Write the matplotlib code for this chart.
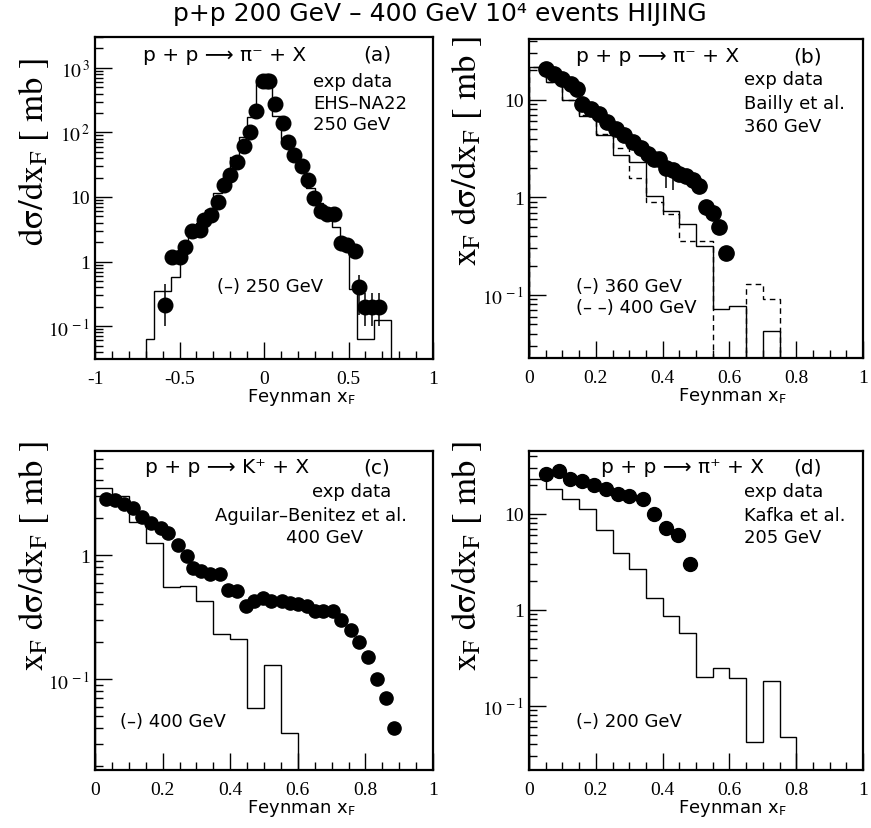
import numpy as np
import matplotlib
matplotlib.use('Agg')
import matplotlib.pyplot as plt
from matplotlib.ticker import MultipleLocator, FixedLocator, FixedFormatter, LogLocator, NullFormatter

plt.rcParams['font.family'] = ['Liberation Serif', 'DejaVu Serif']
plt.rcParams['mathtext.fontset'] = 'stix'
plt.rcParams['axes.unicode_minus'] = False

SANS = ['DejaVu Sans']

# (a) p+p -> pi- + X, EHS-NA22 at 250 GeV, HIJING 250 GeV
a_x = [-0.585, -0.542, -0.499, -0.467, -0.428, -0.380, -0.353, -0.311, -0.272, -0.236,
       -0.199, -0.162, -0.116, -0.083, -0.047, -0.005, 0.015, 0.030,
       0.063, 0.110, 0.142, 0.177, 0.223, 0.262, 0.296, 0.335, 0.374, 0.414,
       0.453, 0.493, 0.536, 0.562, 0.600, 0.640, 0.680]
a_y = [0.21, 1.19, 1.17, 1.69, 2.99, 3.13, 4.42, 5.3, 8.5, 15.5,
       22, 35, 61, 103, 218, 633, 633, 633,
       275, 138, 70, 44, 30.5, 18.5, 9.8, 6.1, 5.4, 5.4,
       1.97, 1.79, 1.46, 0.41, 0.2, 0.2, 0.2]
# points with visible error bars: x, lower and upper end of the bar
a_err_x = [-0.585, 0.562, 0.600, 0.640, 0.680]
a_err_bot = [0.10, 0.15, 0.10, 0.10, 0.10]
a_err_top = [0.45, 0.62, 0.33, 0.33, 0.33]
a_edges = [-0.70, -0.65, -0.60, -0.55, -0.50, -0.45, -0.40, -0.35, -0.30, -0.25, -0.20,
           -0.15, -0.10, -0.05, 0.00, 0.05, 0.10, 0.15, 0.20, 0.25, 0.30, 0.35,
           0.40, 0.45, 0.50, 0.55, 0.60, 0.65, 0.70, 0.75]
a_hist = [0.064, 0.35, 0.35, 0.58, 1.8, 2.4, 3.9, 6.3, 11.5, 20, 42, 85, 174, 650,
          650, 180, 80, 42, 25, 14, 8.0, 4.5, 3.4, 1.5, 0.38, 0.064, 0.064, 0.126, 0.126]

# (b) p+p -> pi- + X, Bailly et al. 360 GeV, HIJING 360 / 400 GeV
b_x = [0.050, 0.075, 0.100, 0.125, 0.145, 0.160, 0.185, 0.210, 0.235, 0.260, 0.285,
       0.310, 0.335, 0.355, 0.375, 0.390, 0.410, 0.430, 0.450, 0.470, 0.490, 0.510,
       0.530, 0.550, 0.570, 0.590]
b_y = [20.8, 18.5, 16.4, 14.6, 13.0, 9.1, 8.1, 7.2, 5.9, 5.0, 4.4,
       3.7, 3.2, 2.8, 2.5, 2.5, 2.0, 1.9, 1.74, 1.64, 1.51, 1.31,
       0.79, 0.69, 0.50, 0.27]
b_err_x = [0.410, 0.430]
b_err_bot = [1.25, 1.2]
b_err_top = [2.35, 2.25]
b_edges = [0.00, 0.05, 0.10, 0.15, 0.20, 0.25, 0.30, 0.35, 0.40, 0.45, 0.50, 0.55,
           0.60, 0.65, 0.70, 0.75]
b_hist_360 = [21.7, 15.2, 10.0, 6.9, 4.4, 2.7, 2.3, 1.04, 0.73, 0.53, 0.32, 0.071,
              0.078, 0.0, 0.043]
b_hist_400 = [21.7, 15.2, 10.0, 7.0, 4.5, 3.2, 1.57, 0.89, 0.67, 0.36, 0.36, 0.0,
              0.0, 0.129, 0.091]

# (c) p+p -> K+ + X, Aguilar-Benitez et al. 400 GeV, HIJING 400 GeV
c_x = [0.033, 0.059, 0.086, 0.111, 0.138, 0.167, 0.194, 0.217, 0.246, 0.271,
       0.291, 0.315, 0.340, 0.370, 0.394, 0.421, 0.446, 0.470, 0.498, 0.522,
       0.552, 0.576, 0.601, 0.626, 0.650, 0.675, 0.704, 0.729, 0.756, 0.781,
       0.808, 0.833, 0.860, 0.885]
c_y = [2.84, 2.77, 2.6, 2.4, 2.03, 1.82, 1.64, 1.51, 1.2, 0.98,
       0.79, 0.74, 0.70, 0.70, 0.52, 0.51, 0.39, 0.43, 0.45, 0.43,
       0.43, 0.41, 0.40, 0.39, 0.355, 0.355, 0.355, 0.30, 0.25, 0.20,
       0.15, 0.10, 0.07, 0.04]
c_edges = [0.00, 0.05, 0.10, 0.15, 0.20, 0.25, 0.30, 0.35, 0.40, 0.45, 0.50, 0.55, 0.60]
c_hist = [3.5, 3.0, 1.84, 1.26, 0.556, 0.56, 0.43, 0.23, 0.21, 0.058, 0.13, 0.037]

# (d) p+p -> pi+ + X, Kafka et al. 205 GeV, HIJING 200 GeV
d_x = [0.051, 0.091, 0.123, 0.158, 0.194, 0.232, 0.266, 0.300, 0.340, 0.374,
       0.409, 0.445, 0.483]
d_y = [26, 28, 23, 22, 20, 18.2, 16.2, 15.2, 14.1, 10, 7.1, 6.0, 3.0]
d_edges = [0.00, 0.05, 0.10, 0.15, 0.20, 0.25, 0.30, 0.35, 0.40, 0.45, 0.50, 0.55,
           0.60, 0.65, 0.70, 0.75, 0.80]
d_hist = [23, 18.2, 14.4, 11.3, 6.7, 3.9, 2.67, 1.33, 0.86, 0.57, 0.198, 0.245,
          0.193, 0.042, 0.183, 0.0475]

xf_ticks = [0, 0.2, 0.4, 0.6, 0.8, 1]
xf_labels = ['0', '0.2', '0.4', '0.6', '0.8', '1']


def style_axes(ax, xlim, xticks, xlabels, xminor, ylim, yticks, ylabels):
    ax.set_yscale('log')
    ax.set_xlim(*xlim)
    ax.set_ylim(*ylim)
    ax.set_xticks(xticks, xlabels)
    ax.xaxis.set_minor_locator(MultipleLocator(xminor))
    ax.yaxis.set_major_locator(FixedLocator(yticks))
    ax.yaxis.set_major_formatter(FixedFormatter(ylabels))
    ax.yaxis.set_minor_locator(LogLocator(base=10, subs=np.arange(2, 10)))
    ax.yaxis.set_minor_formatter(NullFormatter())
    ax.tick_params(which='both', direction='in', top=False, right=False,
                   labelsize=14, width=1.0)
    ax.tick_params(which='major', length=12)
    ax.tick_params(which='minor', length=6)
    ax.tick_params(axis='x', pad=8)
    for s in ax.spines.values():
        s.set_linewidth(1.6)
    ax.text(0.61, -0.118, r'Feynman x$_\mathregular{F}$', transform=ax.transAxes,
            ha='center', va='center', fontsize=13, family=SANS)


def txt(ax, x, y, s, ha='left', size=13):
    ax.text(x, y, s, transform=ax.transAxes, ha=ha, va='center', fontsize=size, family=SANS)


def dots(ax, x, y, ms=10.5):
    ax.plot(x, y, 'o', color='black', ms=ms, zorder=3)


def bars(ax, xs, allx, ally, bot, top):
    ys = np.array([ally[allx.index(v)] for v in xs])
    ax.errorbar(xs, ys, yerr=[ys - np.array(bot), np.array(top) - ys],
                fmt='none', ecolor='black', elinewidth=1.1, capsize=0)


fig = plt.figure(figsize=(8.71, 8.29), dpi=100)
W, H = 871.0, 829.0


def box(l, t, r, b):
    return [l / W, 1 - b / H, (r - l) / W, (b - t) / H]


ax_a = fig.add_axes(box(95, 38, 433, 360))
ax_b = fig.add_axes(box(529, 40, 863, 359))
ax_c = fig.add_axes(box(95, 452, 433, 771))
ax_d = fig.add_axes(box(529, 452, 863, 771))

fig.text(0.505, 0.983, 'p+p 200 GeV – 400 GeV 10⁴ events HIJING', ha='center', va='center',
         fontsize=18, family=SANS)

# panel (a)
ax_a.stairs(a_hist, a_edges, baseline=1e-4, color='black', lw=1.0)
bars(ax_a, a_err_x, a_x, a_y, a_err_bot, a_err_top)
dots(ax_a, a_x, a_y)
style_axes(ax_a, (-1, 1), [-1, -0.5, 0, 0.5, 1], ['-1', '-0.5', '0', '0.5', '1'], 0.1,
           (0.031, 3000), [0.1, 1, 10, 100, 1000],
           [r'$10^{\,-1}$', '1', '10', r'$10^{\,2}$', r'$10^{\,3}$'])
txt(ax_a, 0.142, 0.947, 'p + p ⟶ π⁻ + X', size=14.5)
txt(ax_a, 0.793, 0.947, '(a)', size=14.5)
txt(ax_a, 0.645, 0.863, 'exp data')
txt(ax_a, 0.645, 0.796, 'EHS–NA22')
txt(ax_a, 0.645, 0.729, '250 GeV')
txt(ax_a, 0.361, 0.227, '(–) 250 GeV')
fig.text(0.038, 0.817, r'$\mathrm{d\sigma/dx_F\ [\ mb\ ]}$', rotation=90,
         ha='center', va='center', fontsize=25)

# panel (b)
ax_b.stairs(b_hist_360, b_edges, baseline=1e-4, color='black', lw=1.0)
ax_b.stairs(b_hist_400, b_edges, baseline=1e-4, color='black', lw=1.0, ls=(0, (4, 3)))
bars(ax_b, b_err_x, b_x, b_y, b_err_bot, b_err_top)
dots(ax_b, b_x, b_y, ms=11)
style_axes(ax_b, (0, 1), xf_ticks, xf_labels, 0.05, (0.0226, 42),
           [0.1, 1, 10], [r'$10^{\,-1}$', '1', '10'])
txt(ax_b, 0.142, 0.947, 'p + p ⟶ π⁻ + X', size=14.5)
txt(ax_b, 0.79, 0.947, '(b)', size=14.5)
txt(ax_b, 0.645, 0.875, 'exp data')
txt(ax_b, 0.645, 0.800, 'Bailly et al.')
txt(ax_b, 0.645, 0.727, '360 GeV')
txt(ax_b, 0.142, 0.226, '(–) 360 GeV')
txt(ax_b, 0.142, 0.160, '(– –) 400 GeV')
fig.text(0.536, 0.817, r'$\mathrm{x_F\ d\sigma/dx_F\ [\ mb\ ]}$', rotation=90,
         ha='center', va='center', fontsize=25)

# panel (c)
ax_c.stairs(c_hist, c_edges, baseline=1e-4, color='black', lw=1.0)
dots(ax_c, c_x, c_y, ms=9.5)
style_axes(ax_c, (0, 1), xf_ticks, xf_labels, 0.05, (0.0185, 6.9),
           [0.1, 1], [r'$10^{\,-1}$', '1'])
txt(ax_c, 0.148, 0.950, 'p + p ⟶ K⁺ + X', size=14.5)
txt(ax_c, 0.793, 0.950, '(c)', size=14.5)
txt(ax_c, 0.760, 0.875, 'exp data', ha='center')
txt(ax_c, 0.639, 0.800, 'Aguilar–Benitez et al.', ha='center')
txt(ax_c, 0.680, 0.730, '400 GeV', ha='center')
txt(ax_c, 0.074, 0.154, '(–) 400 GeV')
fig.text(0.038, 0.329, r'$\mathrm{x_F\ d\sigma/dx_F\ [\ mb\ ]}$', rotation=90,
         ha='center', va='center', fontsize=25)

# panel (d)
ax_d.stairs(d_hist, d_edges, baseline=1e-4, color='black', lw=1.0)
dots(ax_d, d_x, d_y, ms=10)
style_axes(ax_d, (0, 1), xf_ticks, xf_labels, 0.05, (0.0215, 45),
           [0.1, 1, 10], [r'$10^{\,-1}$', '1', '10'])
txt(ax_d, 0.216, 0.950, 'p + p ⟶ π⁺ + X', size=14.5)
txt(ax_d, 0.79, 0.950, '(d)', size=14.5)
txt(ax_d, 0.645, 0.875, 'exp data')
txt(ax_d, 0.645, 0.800, 'Kafka et al.')
txt(ax_d, 0.645, 0.730, '205 GeV')
txt(ax_d, 0.142, 0.154, '(–) 200 GeV')
fig.text(0.536, 0.329, r'$\mathrm{x_F\ d\sigma/dx_F\ [\ mb\ ]}$', rotation=90,
         ha='center', va='center', fontsize=25)

fig.savefig('out.png', dpi=100)
